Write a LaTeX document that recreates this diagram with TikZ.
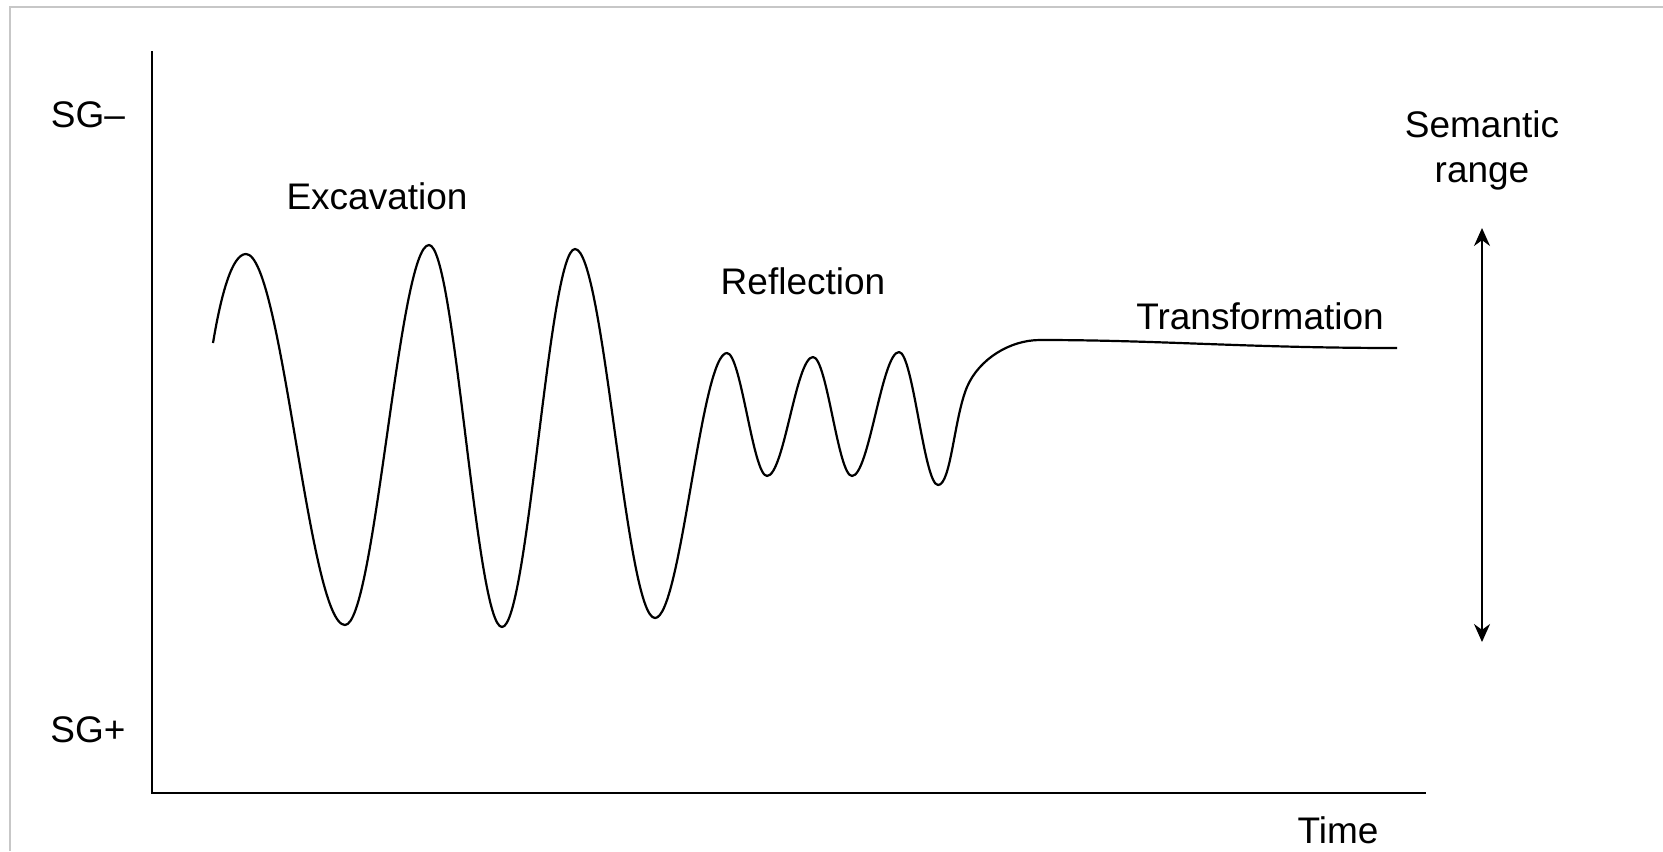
\documentclass[tikz,border=0pt]{standalone}
\usepackage{fontspec}
\setmainfont{Liberation Sans}
\usetikzlibrary{arrows.meta}
\begin{document}
\begin{tikzpicture}[x=0.5pt,y=-0.5pt,
  lbl/.style={inner sep=0pt, font=\fontsize{18.5}{22.5}\selectfont},
  axis/.style={line width=1.3pt, line cap=rect},
  wave/.style={line width=1.1pt, line join=round},
  rangearrow/.style={line width=1pt, {Stealth[length=9pt,width=8pt]}-{Stealth[length=9pt,width=8pt]}},
  frame/.style={draw=black!22, line width=1pt}]
\useasboundingbox (0,0) rectangle (1663,851);
\draw[frame] (10,851) -- (10,7) -- (1663,7);
% axes
\coordinate (ytop) at (152,52);
\coordinate (o) at (152,793);
\coordinate (xend) at (1425,793);
\draw[axis] (ytop) -- (o) -- (xend);
% labels
\node[lbl] (sgm) at (88,115) {SG–};
\node[lbl] (sgp) at (88,730) {SG+};
\node[lbl] (time) at (1338,830) {Time};
\node[lbl] (exc) at (377,196) {Excavation};
\node[lbl] (refl) at (803,281) {Reflection};
\node[lbl] (trans) at (1260,316) {Transformation};
\node[lbl, align=center] (sem) at (1482,150) {Semantic\\range};
% range arrow
\coordinate (atop) at (1482,228);
\coordinate (abot) at (1482,642);
\draw[rangearrow] (atop) -- (abot);
% wave
\coordinate (s) at (213,343);
\coordinate (p1) at (246,254);
\coordinate (t1) at (345,625);
\coordinate (p2) at (429,245);
\coordinate (t2) at (502,627);
\coordinate (p3) at (575,249);
\coordinate (t3) at (655,618);
\coordinate (p4) at (727,353);
\coordinate (t4) at (767,476);
\coordinate (p5) at (813,357);
\coordinate (t5) at (852,476);
\coordinate (p6) at (899,352);
\coordinate (t6) at (938,485);
\coordinate (m) at (967,387);
\coordinate (q) at (1040,340);
\coordinate (e) at (1397,348);
\draw[wave] (s)
  .. controls +(8,-48) and +(-14,0) .. (p1)
  .. controls +(36,0) and +(-36,0) .. (t1)
  .. controls +(30,0) and +(-30,0) .. (p2)
  .. controls +(26,0) and +(-26,0) .. (t2)
  .. controls +(26,0) and +(-26,0) .. (p3)
  .. controls +(29,0) and +(-29,0) .. (t3)
  .. controls +(26,0) and +(-26,0) .. (p4)
  .. controls +(14,0) and +(-14,0) .. (t4)
  .. controls +(17,0) and +(-17,0) .. (p5)
  .. controls +(14,0) and +(-14,0) .. (t5)
  .. controls +(17,0) and +(-17,0) .. (p6)
  .. controls +(14,0) and +(-14,0) .. (t6)
  .. controls +(13,0) and +(-13,31) .. (m)
  .. controls +(12,-28) and +(-30,0) .. (q)
  .. controls +(120,0) and +(-150,0) .. (e);
\end{tikzpicture}
\end{document}
